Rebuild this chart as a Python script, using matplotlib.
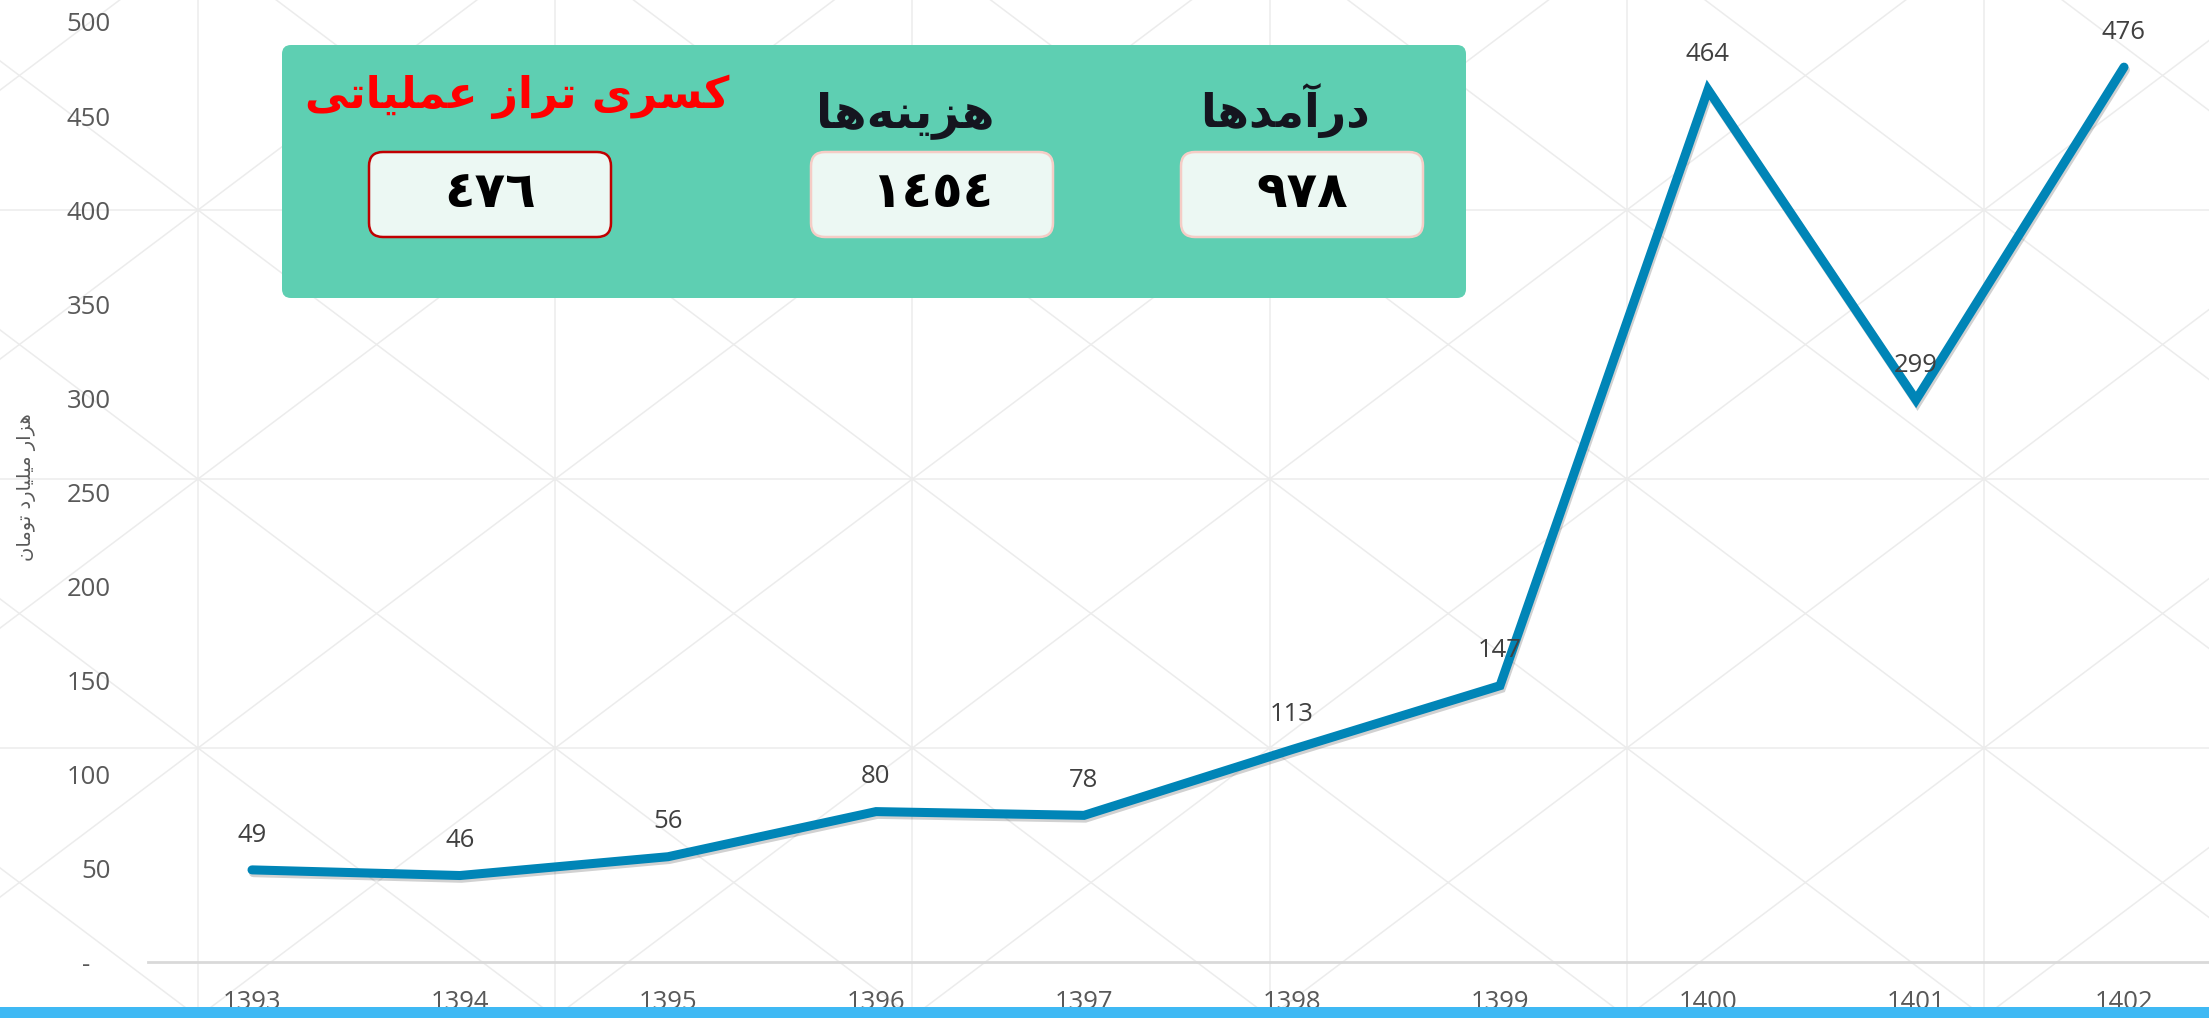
import matplotlib
matplotlib.use('Agg')
import matplotlib.pyplot as plt
from matplotlib.patches import FancyBboxPatch, Rectangle
import matplotlib.patheffects as pe

# ---------------- data ----------------
years = ['1393', '1394', '1395', '1396', '1397', '1398', '1399', '1400', '1401', '1402']
values = [49, 46, 56, 80, 78, 113, 147, 464, 299, 476]
y_ticks = [0, 50, 100, 150, 200, 250, 300, 350, 400, 450, 500]
y_tick_labels = ['-   ', '50', '100', '150', '200', '250', '300', '350', '400', '450', '500']
y_label = 'هزار میلیارد تومان'
card_titles = ['کسری تراز عملیاتی', 'هزینه\u200cها', 'درآمدها']
card_values = ['٤٧٦', '١٤٥٤', '٩٧٨']

# ---------------- simple Arabic shaping (presentation forms + visual order) ----------------
FORMS = {
    'ا': ('\uFE8D', '\uFE8E', None, None),
    'آ': ('\uFE81', '\uFE82', None, None),
    'د': ('\uFEA9', '\uFEAA', None, None),
    'ر': ('\uFEAD', '\uFEAE', None, None),
    'ز': ('\uFEAF', '\uFEB0', None, None),
    'و': ('\uFEED', '\uFEEE', None, None),
    'ت': ('\uFE95', '\uFE96', '\uFE97', '\uFE98'),
    'س': ('\uFEB1', '\uFEB2', '\uFEB3', '\uFEB4'),
    'ع': ('\uFEC9', '\uFECA', '\uFECB', '\uFECC'),
    'ل': ('\uFEDD', '\uFEDE', '\uFEDF', '\uFEE0'),
    'م': ('\uFEE1', '\uFEE2', '\uFEE3', '\uFEE4'),
    'ن': ('\uFEE5', '\uFEE6', '\uFEE7', '\uFEE8'),
    'ه': ('\uFEE9', '\uFEEA', '\uFEEB', '\uFEEC'),
    'ی': ('\uFBFC', '\uFBFD', '\uFBFE', '\uFBFF'),
    'ک': ('\uFB8E', '\uFB8F', '\uFB90', '\uFB91'),
}


def shape(text):
    out = []
    n = len(text)
    for i, ch in enumerate(text):
        if ch == '\u200c':
            continue
        if ch not in FORMS:
            out.append(ch)
            continue
        prev = text[i - 1] if i > 0 else ''
        nxt = text[i + 1] if i < n - 1 else ''
        joins_prev = prev in FORMS and FORMS[prev][2] is not None
        joins_next = FORMS[ch][2] is not None and nxt in FORMS
        iso, fin, ini, med = FORMS[ch]
        if joins_prev and joins_next:
            out.append(med)
        elif joins_prev:
            out.append(fin)
        elif joins_next:
            out.append(ini)
        else:
            out.append(iso)
    return ''.join(reversed(out))


W, H = 2209, 1018
fig = plt.figure(figsize=(W / 100, H / 100), dpi=100)
fig.patch.set_facecolor('white')

# ---------------- decorative background pattern ----------------
bg = fig.add_axes([0, 0, 1, 1], zorder=0)
bg.set_xlim(0, W)
bg.set_ylim(H, 0)
bg.axis('off')
cw, ch = 357.2, 269.0
gx = [198 + cw * k for k in range(-1, 7)]
gy = [210 + ch * k for k in range(-1, 4)]
lc = '#ececec'
for x in gx:
    bg.plot([x, x], [0, H], color=lc, lw=1.1)
for y in gy:
    bg.plot([0, W], [y, y], color=lc, lw=1.1)
for x in gx:
    for y in gy:
        bg.plot([x, x + cw], [y, y + ch], color=lc, lw=1.1)
        bg.plot([x, x + cw], [y + ch, y], color=lc, lw=1.1)

# ---------------- main chart ----------------
ax = fig.add_axes([148 / W, (H - 962) / H, 2080 / W, 940 / H], zorder=1)
ax.patch.set_alpha(0)
xs = list(range(len(years)))
ax.plot(xs, values, color='#0085b7', lw=6.5, solid_joinstyle='miter',
        solid_capstyle='round', zorder=3,
        path_effects=[pe.SimpleLineShadow(offset=(1.0, -2.0), shadow_color='#000000', alpha=0.18),
                      pe.Normal()])
ax.set_xlim(-0.5, 9.5)
ax.set_ylim(0, 500)
for s in ['top', 'right', 'left']:
    ax.spines[s].set_visible(False)
ax.spines['bottom'].set_color('#d9d9d9')
ax.spines['bottom'].set_linewidth(2)
ax.set_xticks(xs, years)
ax.set_yticks(y_ticks, y_tick_labels)
ax.tick_params(axis='both', length=0, labelsize=18.5, labelcolor='#595959')
ax.tick_params(axis='y', pad=27)
ax.tick_params(axis='x', pad=20)
for lab in ax.get_xticklabels() + ax.get_yticklabels():
    lab.set_fontfamily('Open Sans')

for x, v in zip(xs, values):
    ax.annotate(str(v), (x, v), xytext=(0, 25), textcoords='offset points',
                ha='center', va='center', fontsize=18.5, color='#404040',
                family='Open Sans', annotation_clip=False, zorder=4)

# ---------------- overlay: card panel, y label, bottom bar ----------------
ov = fig.add_axes([0, 0, 1, 1], zorder=2)
ov.set_xlim(0, W)
ov.set_ylim(H, 0)
ov.axis('off')
ov.patch.set_alpha(0)

ov.add_patch(FancyBboxPatch((282, 45), 1184, 253, boxstyle='round,pad=0,rounding_size=9',
                            facecolor='#5ecfb2', edgecolor='none'))

card_cx = [490, 932, 1302]
title_cx = [517, 905, 1285]
title_y = [108, 127, 127]
title_size = [31.5, 34, 33]
title_col = ['#ff0000', '#15151f', '#15151f']
edge_col = ['#c00000', '#f5cdc6', '#f5cdc6']
for i in range(3):
    ov.add_patch(FancyBboxPatch((card_cx[i] - 121, 152), 242, 85,
                                boxstyle='round,pad=0,rounding_size=14',
                                facecolor='#ecf8f3', edgecolor=edge_col[i], lw=1.8))
    ov.text(title_cx[i], title_y[i], shape(card_titles[i]), ha='center', va='baseline',
            fontsize=title_size[i], fontweight='bold', color=title_col[i], family=['DejaVu Sans'])
    ov.text(card_cx[i], 193, card_values[i], ha='center', va='center',
            fontsize=36, fontweight='bold', color='#000000', family=['DejaVu Sans'])

ov.text(27, 487, shape(y_label), rotation=90, ha='center', va='center',
        fontsize=14, color='#595959', family=['DejaVu Sans'])

ov.add_patch(Rectangle((0, 1007), W, 11, facecolor='#3fb9f4', edgecolor='none'))

fig.savefig('out.png', dpi=100)
